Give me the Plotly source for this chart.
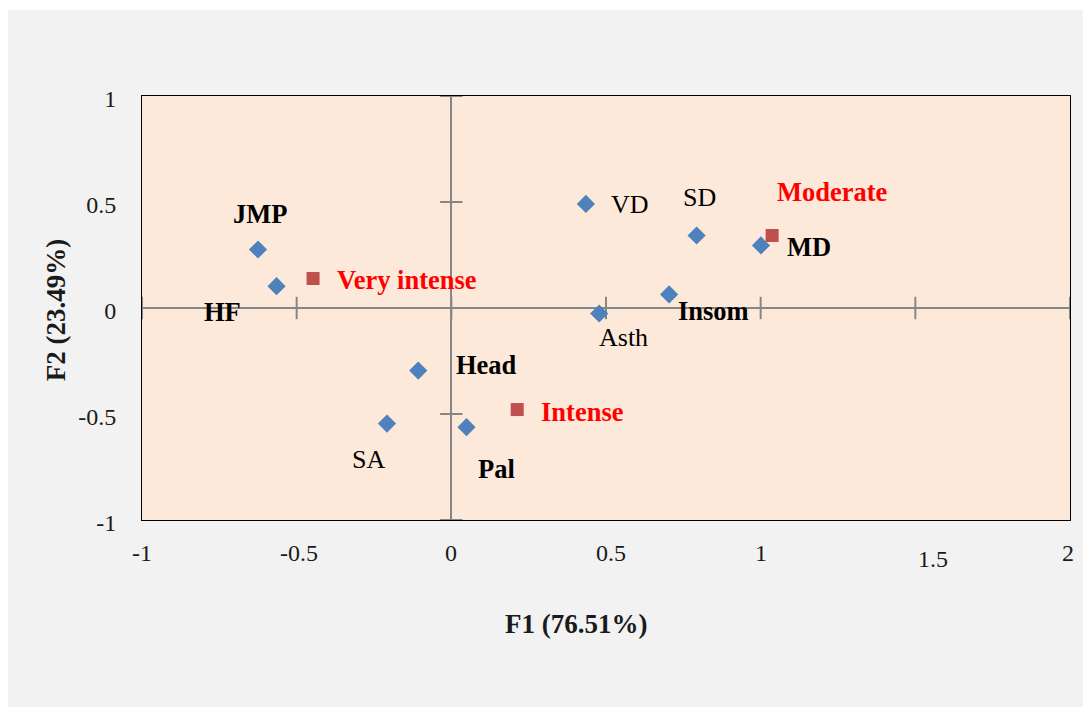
import plotly.graph_objects as go

# ---- data ----
var_names = ["JMP", "HF", "VD", "SD", "MD", "Insom", "Asth", "Head", "SA", "Pal"]
var_f1 = [-0.625, -0.565, 0.435, 0.793, 1.001, 0.704, 0.478, -0.107, -0.208, 0.049]
var_f2 = [0.276, 0.103, 0.491, 0.342, 0.295, 0.064, -0.026, -0.295, -0.545, -0.562]
var_bold = [True, True, False, False, True, True, False, True, False, True]

cat_names = ["Very intense", "Moderate", "Intense"]
cat_f1 = [-0.447, 1.037, 0.213]
cat_f2 = [0.139, 0.342, -0.479]

tick_vals = [-1, -0.5, 0, 0.5, 1, 1.5, 2]
tick_text = ["-1", "-0.5", "0", "0.5", "1", "1.5", "2"]
ytick_vals = [-1, -0.5, 0, 0.5, 1]
ytick_text = ["-1", "-0.5", "0", "0.5", "1"]

x_title = "F1 (76.51%)"
y_title = "F2 (23.49%)"

# ---- styles / label offsets (pixels) ----
FONT = "Liberation Serif"
BLUE = "#4F81BD"
RED_MK = "#C0504D"
RED_TX = "#FF0000"
AXIS_GRAY = "#868686"
var_offsets = {
    "JMP": (2, 35, "center"), "HF": (-54, -26, "center"), "VD": (23, -1, "left"),
    "SD": (3, 38, "center"), "MD": (24, -2, "left"), "Insom": (44, -17, "center"),
    "Asth": (24, -24, "center"), "Head": (68, 6, "center"), "SA": (-18, -36, "center"),
    "Pal": (30, -42, "center"),
}
cat_offsets = {
    "Very intense": (22, -1, "left"), "Moderate": (60, 44, "center"),
    "Intense": (22, -2, "left"),
}
xtick_shift = {0.5: (5, 0), 1.5: (18, -6), 2: (-2, 0), -0.5: (2, 0)}

fig = go.Figure()

# crossing tick marks on the zero axes
fig.add_trace(go.Scatter(
    x=tick_vals, y=[0] * len(tick_vals), mode="markers", hoverinfo="skip",
    marker=dict(symbol="line-ns", size=16, line=dict(color=AXIS_GRAY, width=2)),
    showlegend=False))
fig.add_trace(go.Scatter(
    x=[0] * len(ytick_vals), y=ytick_vals, mode="markers", hoverinfo="skip",
    marker=dict(symbol="line-ew", size=16, line=dict(color=AXIS_GRAY, width=2)),
    showlegend=False))

fig.add_trace(go.Scatter(
    x=var_f1, y=var_f2, mode="markers", text=var_names,
    marker=dict(symbol="diamond", size=14, color=BLUE), showlegend=False))
fig.add_trace(go.Scatter(
    x=cat_f1, y=cat_f2, mode="markers", text=cat_names,
    marker=dict(symbol="square", size=13, color=RED_MK), showlegend=False))

annotations = []
for n, x, y, b in zip(var_names, var_f1, var_f2, var_bold):
    dx, dy, anc = var_offsets[n]
    annotations.append(dict(
        x=x, y=y, xref="x", yref="y", text=f"<b>{n}</b>" if b else n,
        showarrow=False, xshift=dx, yshift=dy, xanchor=anc, yanchor="middle",
        font=dict(family=FONT, size=26.5 if b else 26, color="#000000")))
for n, x, y in zip(cat_names, cat_f1, cat_f2):
    dx, dy, anc = cat_offsets[n]
    annotations.append(dict(
        x=x, y=y, xref="x", yref="y", text=f"<b>{n}</b>",
        showarrow=False, xshift=dx, yshift=dy, xanchor=anc, yanchor="middle",
        font=dict(family=FONT, size=26.5, color=RED_TX)))

# x tick labels (as in the original, with their small individual shifts)
for v, t in zip(tick_vals, tick_text):
    dx, dy = xtick_shift.get(v, (0, 0))
    annotations.append(dict(
        x=v, y=0, xref="x", yref="paper", text=t, showarrow=False,
        xshift=dx, yshift=-33 + dy, xanchor="center", yanchor="middle",
        font=dict(family=FONT, size=24, color="#1a1a1a")))

# axis titles
annotations.append(dict(
    x=0.4677, y=-0.245, xref="paper", yref="paper", text=f"<b>{x_title}</b>",
    showarrow=False, xanchor="center", yanchor="middle",
    font=dict(family=FONT, size=27, color="#1a1a1a")))
annotations.append(dict(
    x=-0.0925, y=0.495, xref="paper", yref="paper", text=f"<b>{y_title}</b>",
    showarrow=False, textangle=-90, xanchor="center", yanchor="middle",
    font=dict(family=FONT, size=27, color="#1a1a1a")))

fig.update_layout(
    width=1083, height=699,
    margin=dict(l=134, r=21, t=88, b=187),
    paper_bgcolor="#F2F2F2",
    plot_bgcolor="#FDE9D9",
    annotations=annotations,
    shapes=[dict(type="rect", xref="paper", yref="paper", layer="below",
                 x0=-0.2, x1=1.1, y0=1.2028, y1=1.3,
                 fillcolor="#FFFFFF", line=dict(width=0))],
    font=dict(family=FONT, size=24, color="#1a1a1a"),
)
fig.update_xaxes(
    range=[-1, 2], tickvals=tick_vals, showticklabels=False, showgrid=False,
    zeroline=True, zerolinecolor=AXIS_GRAY, zerolinewidth=2,
    showline=True, mirror=True, linecolor="#000000", linewidth=1, ticks="")
fig.update_yaxes(
    range=[-1, 1], tickvals=ytick_vals, ticktext=ytick_text, showgrid=False,
    zeroline=True, zerolinecolor=AXIS_GRAY, zerolinewidth=2,
    showline=True, mirror=True, linecolor="#000000", linewidth=1, ticks="",
    ticklabelstandoff=20, ticklabelshift=3,
    tickfont=dict(family=FONT, size=24, color="#1a1a1a"))

fig.write_html("out.html")
